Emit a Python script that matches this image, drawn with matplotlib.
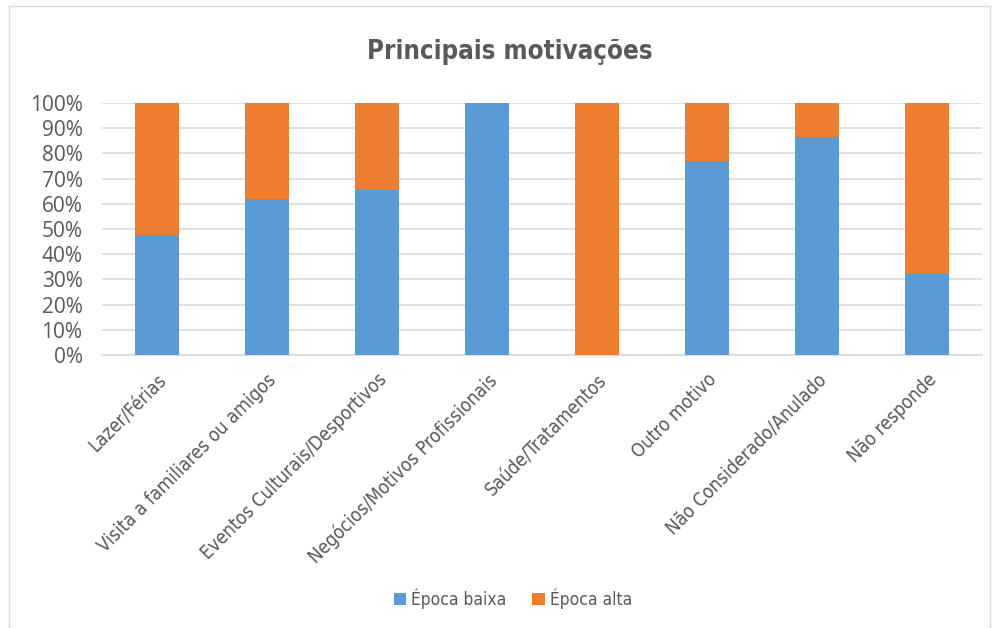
import matplotlib
matplotlib.use('Agg')
import matplotlib.pyplot as plt
from matplotlib import font_manager
import numpy as np
from matplotlib.patches import Rectangle

categories = ["Lazer/Férias", "Visita a familiares ou amigos", "Eventos Culturais/Desportivos",
              "Negócios/Motivos Profissionais", "Saúde/Tratamentos", "Outro motivo",
              "Não Considerado/Anulado", "Não responde"]
epoca_baixa = [47.5, 62.0, 65.5, 100.0, 0.0, 77.0, 86.7, 32.0]
epoca_alta = [100 - v for v in epoca_baixa]
yticks = [0, 10, 20, 30, 40, 50, 60, 70, 80, 90, 100]

# look for a narrow font, the original uses a condensed face
narrow_name = None
for f in font_manager.fontManager.ttflist:
    if f.stretch in ('condensed', 'semi-condensed', 'extra-condensed') or 'Narrow' in f.name or 'Condensed' in f.name:
        narrow_name = f.name
        break
found = narrow_name is not None
if narrow_name is None:
    narrow_name = 'DejaVu Sans'
narrow = dict(family=[narrow_name, 'DejaVu Sans'], stretch='condensed')
gray = '#595959'

fig = plt.figure(figsize=(9.98, 6.28), dpi=100)
fig.patches.append(Rectangle((0.009, 0.0), 0.983, 0.99, transform=fig.transFigure,
                             fill=False, edgecolor='#D9D9D9', linewidth=1))
ax = fig.add_axes([0.1022, 0.4347, 0.8818, 0.4013])

x = np.arange(len(categories))
ax.bar(x, epoca_baixa, width=0.4, color='#5B9BD5', label='Época baixa', zorder=3)
ax.bar(x, epoca_alta, width=0.4, bottom=epoca_baixa, color='#ED7D31', label='Época alta', zorder=3)

ax.set_xlim(-0.5, len(categories) - 0.5)
ax.set_ylim(0, 100)
ax.set_yticks(yticks)
ax.set_yticklabels([f"{v}%" for v in yticks], fontsize=15, color=gray, family='Open Sans')
ax.set_xticks(x)
ax.set_xticklabels(categories, rotation=45, ha='right', rotation_mode='anchor',
                   fontsize=13.5 if found else 12, color=gray, **narrow)
ax.tick_params(axis='y', length=0, pad=14)
ax.tick_params(axis='x', length=0, pad=11)
ax.grid(axis='y', color='#D9D9D9', linewidth=1.2, zorder=0)
for s in ['top', 'right', 'left']:
    ax.spines[s].set_visible(False)
ax.spines['bottom'].set_color('#D9D9D9')
ax.spines['bottom'].set_linewidth(1.2)

fig.text(0.511, 0.917, 'Principais motivações', ha='center', va='center',
         fontsize=18.5 if found else 15, fontweight='bold', color=gray, **narrow)

leg = fig.legend(loc='center', bbox_to_anchor=(0.514, 0.047), ncol=2, frameon=False,
                 handlelength=0.7, handleheight=0.7, handletextpad=0.3, columnspacing=1.5,
                 prop=dict(size=12.5 if found else 11, **narrow))
for t in leg.get_texts():
    t.set_color(gray)

fig.savefig('out.png', dpi=100)
